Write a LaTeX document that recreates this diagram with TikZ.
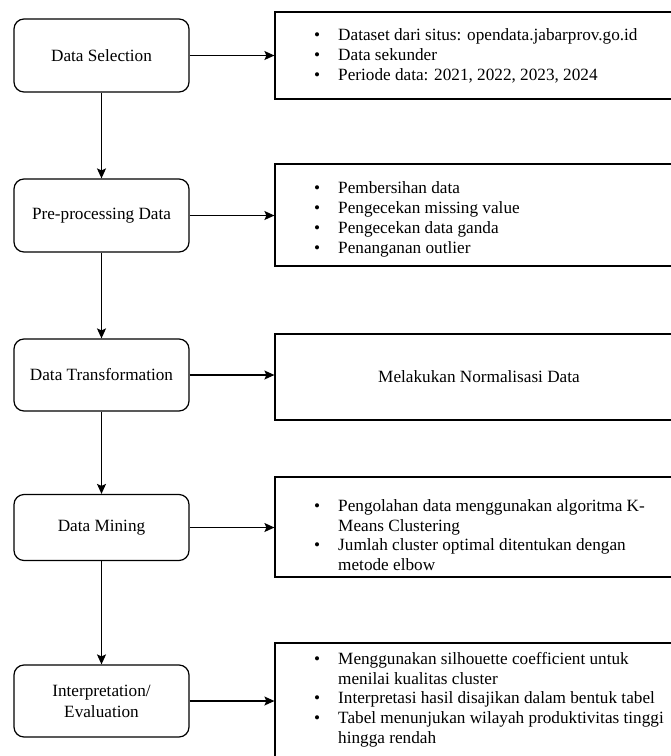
\documentclass[tikz,border=0pt]{standalone}
\usepackage{fontspec}
\setmainfont{Liberation Serif}
\usetikzlibrary{arrows.meta}
\begin{document}
\begin{tikzpicture}[x=1pt,y=-1pt,
  stepbox/.style={draw, rounded corners=10pt, line width=1.2pt, minimum width=175pt, align=center, font=\fontsize{17.2}{21}\selectfont, inner sep=0pt},
  infobox/.style={draw, line width=1.2pt, minimum width=408pt, inner sep=0pt},
  arr/.style={-{Stealth[length=10pt,width=9pt,inset=2pt]}, line width=1.2pt},
  listtxt/.style={font=\fontsize{17.2}{19.8}\selectfont, inner sep=0pt, anchor=west, align=left}]
\useasboundingbox (0,0) rectangle (671,756);
\clip (0,0) rectangle (671,756);

% left process boxes
\node[stepbox, minimum height=73pt] (b1) at (101.5,55.5) {Data Selection};
\node[stepbox, minimum height=73pt] (b2) at (101.5,215.5) {Pre-processing Data};
\node[stepbox, minimum height=72pt] (b3) at (101.5,375) {Data Transformation};
\node[stepbox, minimum height=66pt] (b4) at (101.5,527.5) {Data Mining};
\node[stepbox, minimum height=72pt] (b5) at (101.5,701) {Interpretation/\\Evaluation};

% right description boxes
\node[infobox, minimum height=87pt] (r1) at (479,55.5) {};
\node[infobox, minimum height=102pt] (r2) at (479,215) {};
\node[infobox, minimum height=86pt, font=\fontsize{17.2}{20}\selectfont] (r3) at (479,377) {Melakukan Normalisasi Data};
\node[infobox, minimum height=100pt] (r4) at (479,527) {};
\node[infobox, minimum height=124pt] (r5) at (479,705) {};

% list texts
\node[listtxt] (t1) at (314,56.5) {\begin{tabular}{@{}l@{\hspace{18pt}}l@{}}
\textbullet & Dataset dari situs: opendata.jabarprov.go.id\\
\textbullet & Data sekunder\\
\textbullet & Periode data: 2021, 2022, 2023, 2024
\end{tabular}};
\node[listtxt] (t2) at (314,219.5) {\begin{tabular}{@{}l@{\hspace{18pt}}l@{}}
\textbullet & Pembersihan data\\
\textbullet & Pengecekan missing value\\
\textbullet & Pengecekan data ganda\\
\textbullet & Penanganan outlier
\end{tabular}};
\node[listtxt] (t4) at (314,537) {\begin{tabular}{@{}l@{\hspace{18pt}}l@{}}
\textbullet & Pengolahan data menggunakan algoritma K-\\
 & Means Clustering\\
\textbullet & Jumlah cluster optimal ditentukan dengan\\
 & metode elbow
\end{tabular}};
\node[listtxt] (t5) at (314,700) {\begin{tabular}{@{}l@{\hspace{18pt}}l@{}}
\textbullet & Menggunakan silhouette coefficient untuk\\
 & menilai kualitas cluster\\
\textbullet & Interpretasi hasil disajikan dalam bentuk tabel\\
\textbullet & Tabel menunjukan wilayah produktivitas tinggi\\
 & hingga rendah
\end{tabular}};

% connectors
\draw[arr] (b1.south) -- (b2.north);
\draw[arr] (b2.south) -- (b3.north);
\draw[arr] (b3.south) -- (b4.north);
\draw[arr] (b4.south) -- (b5.north);
\draw[arr] (b1.east) -- (b1.east -| r1.west);
\draw[arr] (b2.east) -- (b2.east -| r2.west);
\draw[arr] (b3.east) -- (b3.east -| r3.west);
\draw[arr] (b4.east) -- (b4.east -| r4.west);
\draw[arr] (b5.east) -- (b5.east -| r5.west);
\end{tikzpicture}
\end{document}
